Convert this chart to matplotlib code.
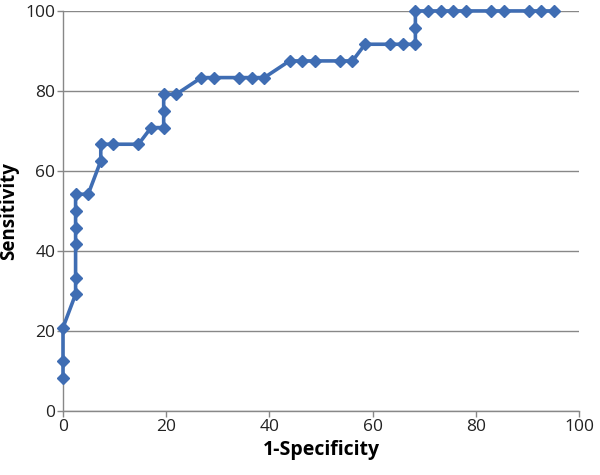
import matplotlib
matplotlib.use("Agg")
import matplotlib.pyplot as plt
import numpy as np

# ---------------------------------------------------------------------------
# Data: ROC curve points (1-Specificity, Sensitivity), in percent
# ---------------------------------------------------------------------------

fpr = np.array([
    0, 0, 0,
    2.44, 2.44, 2.44, 2.44, 2.44, 2.44,
    4.88, 7.32, 7.32, 9.76, 14.63,
    17.07, 19.51, 19.51, 19.51, 21.95,
    26.83, 29.27, 34.15, 36.59, 39.02,
    43.90, 46.34, 48.78, 53.66, 56.10,
    58.54, 63.41, 65.85, 68.29, 68.29, 68.29,
    70.73, 73.17, 75.61, 78.05, 82.93, 85.37, 90.24, 92.68, 95.12,
])
sens = np.array([
    8.33, 12.5, 20.83,
    29.17, 33.33, 41.67, 45.83, 50.0, 54.17,
    54.17, 62.5, 66.67, 66.67, 66.67,
    70.83, 70.83, 75.0, 79.17, 79.17,
    83.33, 83.33, 83.33, 83.33, 83.33,
    87.5, 87.5, 87.5, 87.5, 87.5,
    91.67, 91.67, 91.67, 91.67, 95.83, 100,
    100, 100, 100, 100, 100, 100, 100, 100, 100,
])

x_ticks = [0, 20, 40, 60, 80, 100]
y_ticks = [0, 20, 40, 60, 80, 100]

BLUE = "#3F6DB3"
GRAY = "#888888"

plt.rcParams["font.family"] = ["Open Sans", "DejaVu Sans"]

fig = plt.figure(figsize=(6, 4.75), dpi=100)
ax = fig.add_axes([0.105, 0.135, 0.86, 0.842])

ax.plot(fpr, sens, color=BLUE, linewidth=2.6, marker="D", markersize=6.5,
        markerfacecolor=BLUE, markeredgecolor=BLUE, clip_on=False, zorder=3)

ax.set_xlim(0, 100)
ax.set_ylim(0, 100)
ax.set_xticks(x_ticks)
ax.set_yticks(y_ticks)
ax.yaxis.grid(True, color=GRAY, linewidth=1)
ax.set_axisbelow(True)

for spine in ["top", "right"]:
    ax.spines[spine].set_visible(False)
for spine in ["left", "bottom"]:
    ax.spines[spine].set_color(GRAY)
    ax.spines[spine].set_linewidth(1)

ax.tick_params(axis="both", colors=GRAY, length=4, width=1, labelsize=12.5,
               labelcolor="#222222", pad=1.5)

ax.set_xlabel("1-Specificity", fontsize=14, fontweight="bold", labelpad=4)
ax.set_ylabel("Sensitivity", fontsize=13.5, fontweight="bold")
ax.yaxis.set_label_coords(-0.085, 0.5)

fig.savefig("out.png", dpi=100, facecolor="white")
